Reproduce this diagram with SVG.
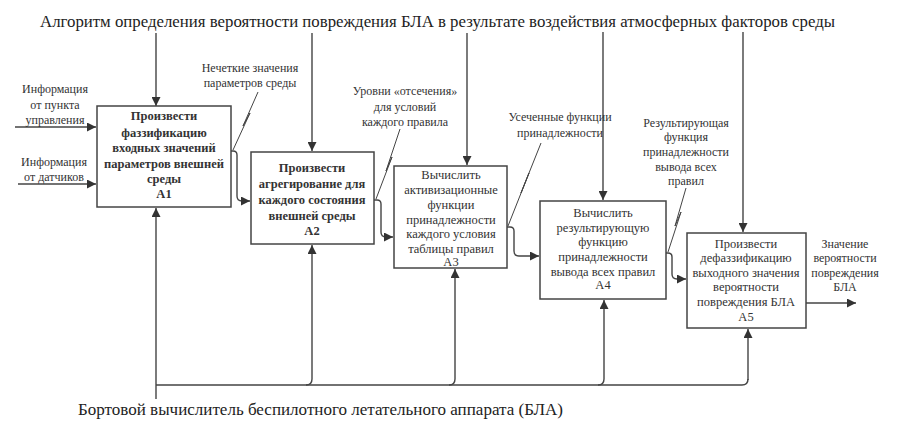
<svg xmlns="http://www.w3.org/2000/svg" width="900" height="433" viewBox="0 0 900 433">
<defs>
<marker id="ah" viewBox="0 0 10 10" refX="10" refY="5" markerWidth="9" markerHeight="9" markerUnits="userSpaceOnUse" orient="auto">
<path d="M0,0 L10,5 L0,10 z" fill="#333"/>
</marker>
<style>
.box{fill:#fff;stroke:#444;stroke-width:1.5;}
.c{fill:none;stroke:#444;stroke-width:1.4;}
.ar{marker-end:url(#ah);}
.sq{fill:none;stroke:#444;stroke-width:1;}
</style>
</defs>
<rect width="900" height="433" fill="#fff"/>

<g font-family="Liberation Serif" font-size="17" fill="#222">
<text x="40" y="27" textLength="795" lengthAdjust="spacingAndGlyphs">Алгоритм определения вероятности повреждения БЛА в результате воздействия атмосферных факторов среды</text>
<text x="78" y="415" textLength="485" lengthAdjust="spacingAndGlyphs">Бортовой вычислитель беспилотного летательного аппарата (БЛА)</text>
</g>

<g id="connectors">
<path class="c ar" d="M156,33 L156,106"/>
<path class="c ar" d="M312,33 L312,151"/>
<path class="c ar" d="M467,33 L467,165"/>
<path class="c ar" d="M603,32 L603,200"/>
<path class="c ar" d="M743,32 L743,232"/>
<path class="c ar" d="M15,127 L96,127"/>
<path class="c ar" d="M18,184 L96,184"/>
<path class="c ar" d="M231,151 L233,151 Q237,151 237,155 L237,196 Q237,201 242,201 L250,201"/>
<path class="c ar" d="M374,200 L377,200 Q381,200 381,204 L381,232 Q381,237 386,237 L393,237"/>
<path class="c ar" d="M507,227 L510,227 Q514,227 514,231 L514,251 Q514,256 519,256 L539,256"/>
<path class="c ar" d="M666,253 L668,253 Q672,253 672,257 L672,274 Q672,279 677,279 L686,279"/>
<path class="c ar" d="M806,303 L856,303"/>
<path class="c ar" d="M156,399 L156,208"/>
<path class="c" d="M156,385 L742,385 Q748,385 748,379"/>
<path class="c ar" d="M748,380 L748,329"/>
<path class="c ar" d="M306,385 Q312,385 312,379 L312,245"/>
<path class="c ar" d="M449,385 Q455,385 455,379 L455,269"/>
<path class="c ar" d="M598,385 Q604,385 604,379 L604,300"/>
<path class="sq" d="M258,92 L243,126 L250,113 L233,150"/>
<path class="sq" d="M400,129 L386,171 L392,157 L376,199"/>
<path class="sq" d="M541,143 L521,193 L529,173 L508,226"/>
<path class="sq" d="M686,188 L675,226 L681,212 L668,252"/>
</g>

<g id="labels" font-family="Liberation Serif" font-size="12" text-anchor="middle" fill="#333">
<text x="55" y="93">Информация</text>
<text x="55" y="109">от пункта</text>
<text x="55" y="124">управления</text>
<text x="54" y="166">Информация</text>
<text x="54" y="181">от датчиков</text>
<text x="250" y="72">Нечеткие значения</text>
<text x="250" y="87">параметров среды</text>
<text x="405" y="95">Уровни «отсечения»</text>
<text x="405" y="111">для условий</text>
<text x="405" y="126">каждого правила</text>
<text x="560" y="121">Усеченные функции</text>
<text x="560" y="137">принадлежности</text>
<text x="686" y="127">Результирующая</text>
<text x="686" y="141">функция</text>
<text x="686" y="156">принадлежности</text>
<text x="686" y="171">вывода всех</text>
<text x="686" y="185">правил</text>
<text x="845" y="248">Значение</text>
<text x="845" y="262">вероятности</text>
<text x="845" y="277">повреждения</text>
<text x="845" y="291">БЛА</text>
</g>

<g id="A1" font-family="Liberation Serif" font-size="12.5" font-weight="bold" text-anchor="middle" fill="#333">
<rect class="box" x="97" y="106" width="134" height="101"/>
<text x="164" y="120">Произвести</text>
<text x="164" y="137">фаззификацию</text>
<text x="164" y="152">входных значений</text>
<text x="164" y="168">параметров внешней</text>
<text x="164" y="183">среды</text>
<text x="164" y="198">A1</text>
</g>
<g id="A2" font-family="Liberation Serif" font-size="12.5" font-weight="bold" text-anchor="middle" fill="#333">
<rect class="box" x="251" y="152" width="123" height="92"/>
<text x="312" y="172">Произвести</text>
<text x="312" y="188">агрегирование для</text>
<text x="312" y="204">каждого состояния</text>
<text x="312" y="220">внешней среды</text>
<text x="312" y="235">A2</text>
</g>
<g id="A3" font-family="Liberation Serif" font-size="12.5" text-anchor="middle" fill="#333">
<rect class="box" x="394" y="166" width="113" height="102"/>
<text x="451" y="179">Вычислить</text>
<text x="451" y="194">активизационные</text>
<text x="451" y="209">функции</text>
<text x="451" y="224">принадлежности</text>
<text x="451" y="238">каждого условия</text>
<text x="451" y="253">таблицы правил</text>
<text x="451" y="266">A3</text>
</g>
<g id="A4" font-family="Liberation Serif" font-size="12.5" text-anchor="middle" fill="#333">
<rect class="box" x="540" y="201" width="126" height="98"/>
<text x="603" y="217">Вычислить</text>
<text x="603" y="232">результирующую</text>
<text x="603" y="246">функцию</text>
<text x="603" y="261">принадлежности</text>
<text x="603" y="276">вывода всех правил</text>
<text x="603" y="289">A4</text>
</g>
<g id="A5" font-family="Liberation Serif" font-size="12.5" text-anchor="middle" fill="#333">
<rect class="box" x="687" y="233" width="119" height="95"/>
<text x="746" y="248">Произвести</text>
<text x="746" y="262">дефаззификацию</text>
<text x="746" y="277">выходного значения</text>
<text x="746" y="291">вероятности</text>
<text x="746" y="306">повреждения БЛА</text>
<text x="746" y="321">A5</text>
</g>
</svg>
